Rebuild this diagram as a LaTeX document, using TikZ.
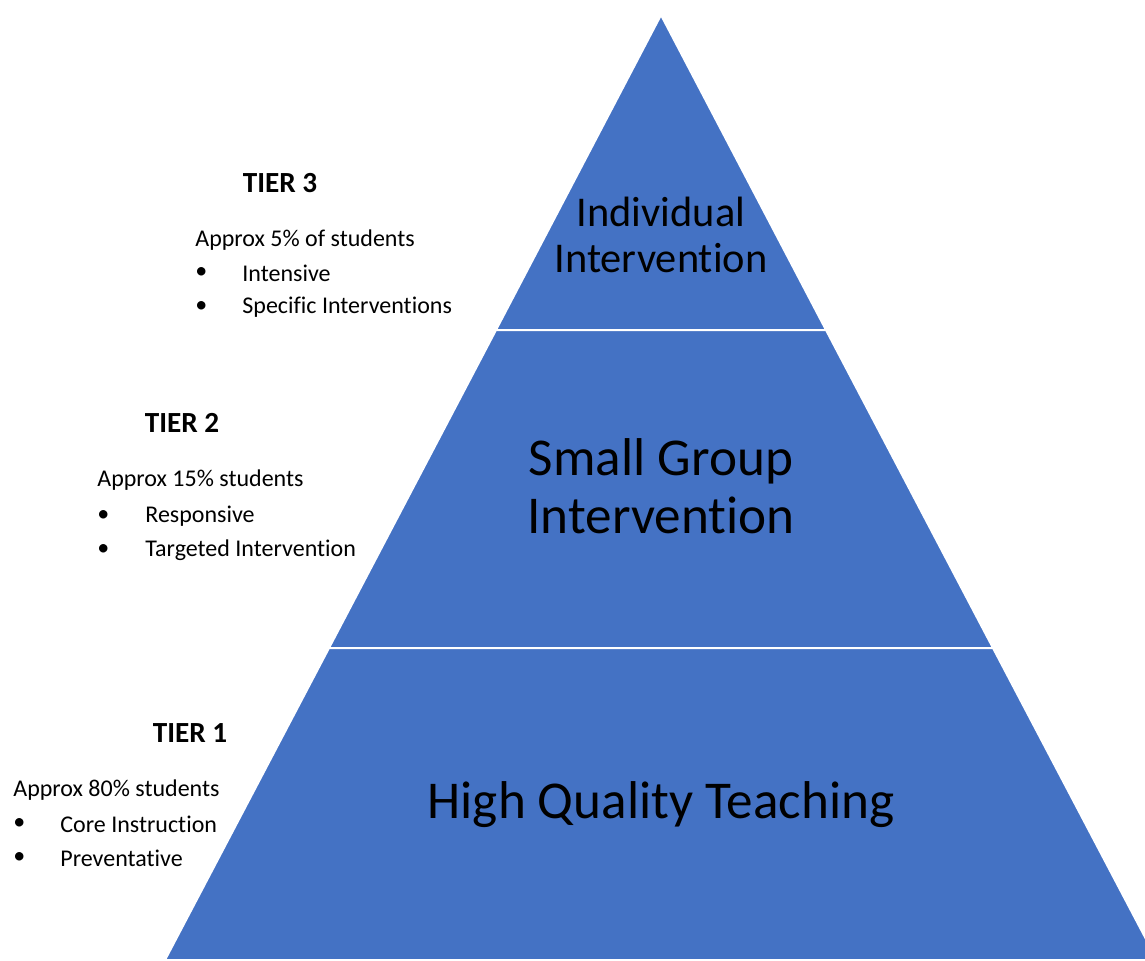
\documentclass[tikz,border=0pt]{standalone}
\usepackage{fontspec}
\setmainfont{Carlito}[Ligatures=NoCommon]
\usepackage{tikz}
\usetikzlibrary{positioning}
\definecolor{tierblue}{HTML}{4472C4}
\tikzset{tierband/.style={fill=tierblue, draw=white, line width=1pt, line join=miter}}
\tikzset{tierlabel/.style={font=\fontsize{26.6}{29}\selectfont, align=center, inner sep=0pt}}
\tikzset{tiertitle/.style={font=\bfseries\fontsize{14.6}{17}\selectfont, inner sep=0pt}}
\tikzset{tiernote/.style={font=\fontsize{12}{14}\selectfont, anchor=west, inner sep=0pt}}

\begin{document}
\begin{tikzpicture}[x=0.5pt, y=-0.5pt]
		\useasboundingbox (0,0) rectangle (1145,960);
		\clip (0,0) rectangle (1145,960);
		
		% corners of the three bands
		\coordinate (apex) at (661,15);
		\coordinate (l1) at (496,330);
		\coordinate (r1) at (826,330);
		\coordinate (l2) at (329,648);
		\coordinate (r2) at (993,648);
		\coordinate (l3) at (165,960);
		\coordinate (r3) at (1157,960);
		
		\path[tierband] (apex) -- (r1) -- (l1) -- cycle;
		\path[tierband] (l1) -- (r1) -- (r2) -- (l2) -- cycle;
		\path[tierband] (l2) -- (r2) -- (r3) -- (l3) -- cycle;
		
		\node[tierlabel, font=\fontsize{21.2}{23}\selectfont] (t3) at (661,235) {Individual\\Intervention};
		\node[tierlabel] (t2) at (661,486) {Small Group\\Intervention};
		\node[tierlabel] (t1) at (661,805) {High Quality Teaching};
		
		% notes on the left
		\node[tiertitle] (h3) at (280,183) {TIER 3};
		\node[tiernote] (n3) at (195,240) {Approx 5\% of students};
		\node[tiernote] (b3a) at (195,273) {•};
		\node[tiernote] (i3a) at (242,273) {Intensive};
		\node[tiernote] (b3b) at (195,307) {•};
		\node[tiernote] (i3b) at (242,307) {Specific Interventions};
		
		\node[tiertitle] (h2) at (182,423) {TIER 2};
		\node[tiernote] (n2) at (97,480) {Approx 15\% students};
		\node[tiernote] (b2a) at (97,516) {•};
		\node[tiernote] (i2a) at (145,516) {Responsive};
		\node[tiernote] (b2b) at (97,550) {•};
		\node[tiernote] (i2b) at (145,550) {Targeted Intervention};
		
		\node[tiertitle] (h1) at (190,733) {TIER 1};
		\node[tiernote] (n1) at (13,790) {Approx 80\% students};
		\node[tiernote] (b1a) at (13,824) {•};
		\node[tiernote] (i1a) at (60,824) {Core Instruction};
		\node[tiernote] (b1b) at (13,858) {•};
		\node[tiernote] (i1b) at (60,858) {Preventative};
		
		\end{tikzpicture}
\end{document}
